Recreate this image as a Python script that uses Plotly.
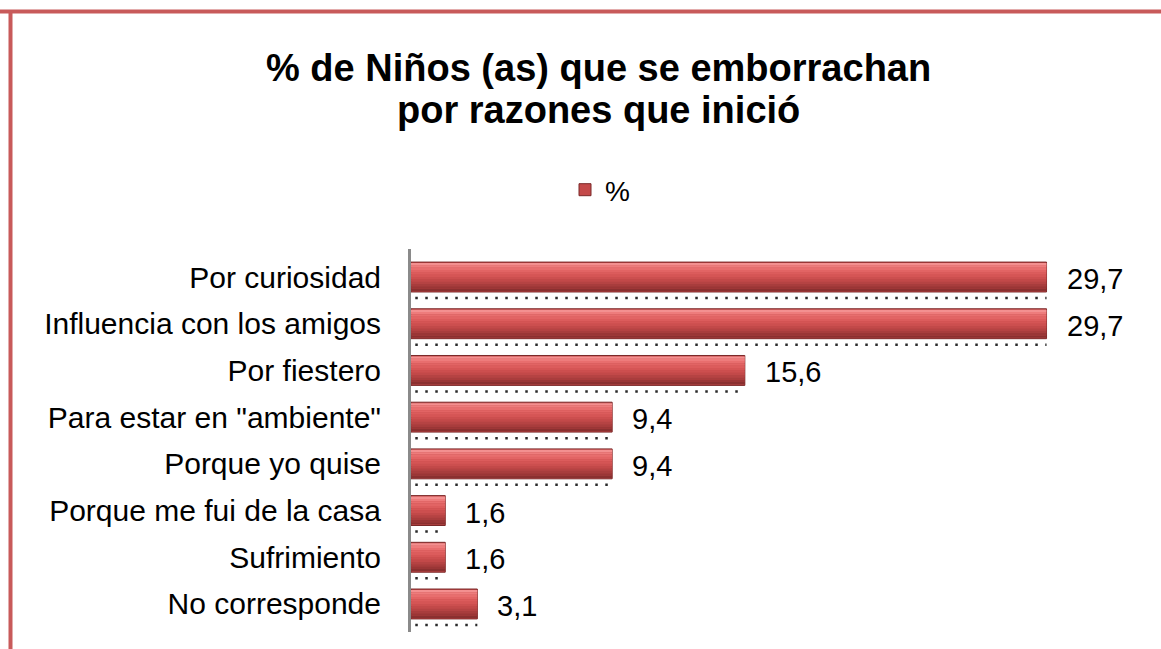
import plotly.graph_objects as go

# Reasons children started getting drunk (percent of respondents)
categories = [
    "Por curiosidad",
    "Influencia con los amigos",
    "Por fiestero",
    'Para estar en "ambiente"',
    "Porque yo quise",
    "Porque me fui de la casa",
    "Sufrimiento",
    "No corresponde",
]
values = [29.7, 29.7, 15.6, 9.4, 9.4, 1.6, 1.6, 3.1]
series_name = "%"
title_lines = ["% de Niños (as) que se emborrachan", "por razones que inició"]

positions = list(range(len(categories)))
labels = [f"{v:.1f}".replace(".", ",") for v in values]

FONT = "Liberation Sans, Arial, sans-serif"

fig = go.Figure()

# Base bar with dark outline (this one carries the legend entry)
fig.add_trace(go.Bar(
    x=values, y=positions, orientation="h", name=series_name,
    width=0.64,
    marker=dict(color="#c44a4a", line=dict(color="#7a2828", width=1)),
    hoverinfo="x+y", showlegend=True,
))

# Thin horizontal bands shade each bar from a light top to a dark bottom
band_colors = ["#f39090", "#ee7c7c", "#e86e6e", "#e26464", "#dc5c5c",
               "#d55555", "#cc4f4f", "#c24949", "#b54343", "#a83d3d",
               "#9a3636", "#8a3030"]
n_bands = len(band_colors)
inner = 0.60
band_w = inner / n_bands
for i, col in enumerate(band_colors):
    fig.add_trace(go.Bar(
        x=values, y=positions, orientation="h",
        offset=-inner / 2 + i * band_w, width=band_w * 1.02,
        marker=dict(color=col, line=dict(width=0)),
        showlegend=False, hoverinfo="skip",
    ))

# Dotted shadow beneath each bar
for p, v in zip(positions, values):
    fig.add_trace(go.Scatter(
        x=[0.2, v], y=[p + 0.45, p + 0.45], mode="lines",
        line=dict(color="#2a2a2a", width=2.5, dash="2.5px,7.5px"),
        showlegend=False, hoverinfo="skip",
    ))

# Value labels to the right of the bars
for p, v, t in zip(positions, values, labels):
    fig.add_annotation(
        x=v, y=p, text=t, showarrow=False, xanchor="left",
        xshift=18, yshift=-2,
        font=dict(family=FONT, size=29, color="#000000"),
    )

PLOT_W = 1161 - 411 - 31
PLOT_H = 649 - 249 - 17

# Two-line bold title
for line, ypx in zip(title_lines, [68, 110]):
    fig.add_annotation(
        xref="paper", yref="paper",
        x=(598 - 411) / PLOT_W, y=1 + (249 - ypx) / PLOT_H,
        xanchor="center", yanchor="middle", showarrow=False,
        text="<b>" + line + "</b>",
        font=dict(family=FONT, size=38, color="#000000"),
    )

fig.update_layout(
    width=1161, height=649,
    paper_bgcolor="white", plot_bgcolor="white",
    margin=dict(l=411, r=31, t=249, b=17),
    barmode="overlay",
    legend=dict(
        orientation="h", x=(600 - 411) / PLOT_W, xanchor="center",
        y=1 + (249 - 190) / PLOT_H, yanchor="middle",
        font=dict(family=FONT, size=28, color="#000000"),
    ),
    showlegend=True,
    xaxis=dict(range=[0, 33.6], visible=False, fixedrange=True),
    yaxis=dict(
        range=[7.6, -0.6],
        tickmode="array", tickvals=positions, ticktext=categories,
        tickfont=dict(family=FONT, size=30, color="#000000"),
        showline=True, linecolor="#8a8a8a", linewidth=3,
        showgrid=False, zeroline=False, ticks="",
        ticklabelstandoff=21,
    ),
    # Chart frame: top and left edges
    shapes=[
        dict(type="line", xref="paper", yref="paper",
             x0=-411 / PLOT_W, x1=(1161 - 411) / PLOT_W + 0.1,
             y0=1 + (249 - 11.5) / PLOT_H, y1=1 + (249 - 11.5) / PLOT_H,
             line=dict(color="#c85a5a", width=4)),
        dict(type="line", xref="paper", yref="paper",
             x0=-(411 - 10.5) / PLOT_W, x1=-(411 - 10.5) / PLOT_W,
             y0=1 + (249 - 10) / PLOT_H, y1=-0.1,
             line=dict(color="#c85a5a", width=4)),
    ],
)

fig.write_html("out.html")
